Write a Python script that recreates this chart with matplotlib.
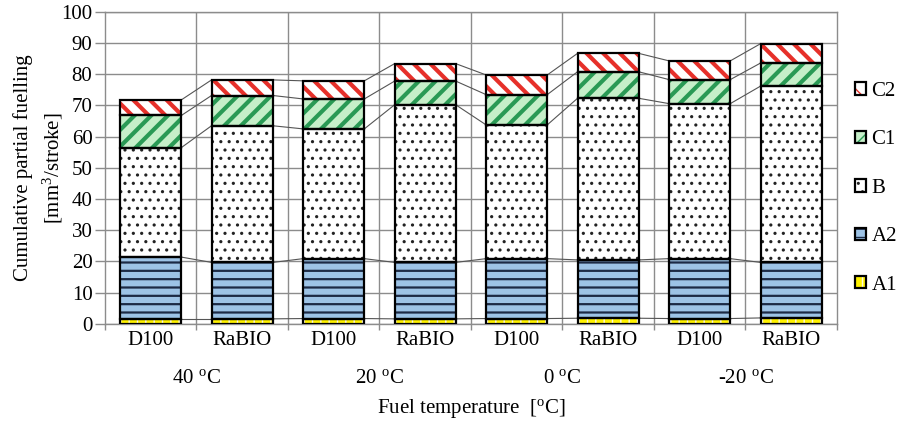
import matplotlib
matplotlib.use("Agg")
import matplotlib.pyplot as plt
from matplotlib import transforms
from matplotlib.patches import Patch
from matplotlib.legend_handler import HandlerTuple

plt.rcParams['font.family'] = ['Liberation Serif', 'DejaVu Serif']
plt.rcParams['mathtext.fontset'] = 'custom'
plt.rcParams['mathtext.rm'] = 'Liberation Serif'
plt.rcParams['mathtext.it'] = 'Liberation Serif:italic'
plt.rcParams['font.size'] = 15

# bars: fuel x temperature
fuels = ['D100', 'RaBIO', 'D100', 'RaBIO', 'D100', 'RaBIO', 'D100', 'RaBIO']
temps = [r'40 $^{\mathrm{o}}$C', r'20 $^{\mathrm{o}}$C', r'0 $^{\mathrm{o}}$C', r'-20 $^{\mathrm{o}}$C']

# partial fuelling per injection [mm3/stroke]
A1 = [1.6, 1.6, 1.7, 1.6, 1.7, 1.8, 1.7, 1.9]
A2 = [19.8, 18.1, 19.2, 18.1, 19.2, 18.7, 19.2, 17.8]
B = [35.1, 43.8, 41.6, 50.5, 42.9, 51.8, 49.7, 56.5]
C1 = [10.3, 9.7, 9.6, 7.6, 9.7, 8.5, 7.7, 7.4]
C2 = [5.0, 5.0, 5.8, 5.6, 6.3, 5.9, 6.0, 6.2]

# (name, values, face, hatch, hatch colour, hatch width)
segments = [
    ('A1', A1, '#fff200', '||', '#fffbe0', 1.0),
    ('A2', A2, '#9dc3e6', '--', '#1c2a45', 1.6),
    ('B', B, 'white', '..', '#222222', 1.1),
    ('C1', C1, '#c6efc9', '//', '#2a9a55', 3.0),
    ('C2', C2, 'white', '\\\\', '#e6302a', 3.0),
]

fig = plt.figure(figsize=(8.97, 4.25), dpi=100)
ax = fig.add_axes([0.117, 0.238, 0.816, 0.734])

x = list(range(len(fuels)))
w = 0.67
bottoms = [0.0] * len(x)
tops = []
handles = {}
for name, vals, face, hatch, hcol, hlw in segments:
    fill = ax.bar(x, vals, w, bottom=bottoms, color=face, edgecolor=hcol,
                  hatch=hatch, linewidth=0, zorder=3)
    for p in fill:
        if hasattr(p, 'set_hatch_linewidth'):
            p.set_hatch_linewidth(hlw)
    ax.bar(x, vals, w, bottom=bottoms, fill=False, edgecolor='black',
           linewidth=1.6, zorder=4)
    bottoms = [b + v for b, v in zip(bottoms, vals)]
    tops.append(bottoms)
    h1 = Patch(facecolor=face, edgecolor=hcol, hatch=hatch, linewidth=0)
    h2 = Patch(fill=False, edgecolor='black', linewidth=1.6)
    handles[name] = (h1, h2)

# series lines between neighbouring bars
for level in tops:
    for i in range(len(x) - 1):
        ax.plot([x[i] + w / 2, x[i + 1] - w / 2], [level[i], level[i + 1]],
                color='#555555', linewidth=0.8, zorder=2)

ax.set_xlim(-0.5, len(x) - 0.5)
ax.set_ylim(0, 100)
ax.set_yticks(range(0, 101, 10))
ax.yaxis.grid(True, color='#8c8c8c', linewidth=1.0, zorder=0)
for b in range(len(x) - 1):
    ax.axvline(b + 0.5, color='#8c8c8c', linewidth=1.0, zorder=0)
ax.set_axisbelow(True)
for s in ax.spines.values():
    s.set_color('#8c8c8c')
    s.set_linewidth(1.0)
ax.tick_params(axis='y', length=7, width=1.0, color='#8c8c8c', labelsize=15, pad=2)
ax.set_xticks([i - 0.5 for i in range(len(x) + 1)])
ax.set_xticklabels([])
ax.tick_params(axis='x', length=4, width=1.0, color='#8c8c8c')

trans = transforms.blended_transform_factory(ax.transData, fig.transFigure)
for i, f in enumerate(fuels):
    ax.text(i, 0.198, f, transform=trans, ha='center', va='center', fontsize=15)
for g, t in enumerate(temps):
    ax.text(2 * g + 0.5, 0.11, t, transform=trans, ha='center', va='center', fontsize=15)
fig.text(0.525, 0.038, r'Fuel temperature  [$^{\mathrm{o}}$C]', ha='center', va='center', fontsize=15)

fig.text(0.026, 0.605, 'Cumulative partial fuelling', rotation=90,
         ha='center', va='center', fontsize=15)
fig.text(0.059, 0.605, r'[mm$^{3}$/stroke]', rotation=90,
         ha='center', va='center', fontsize=15)

order = ['C2', 'C1', 'B', 'A2', 'A1']
leg = fig.legend([handles[n] for n in order], order,
                 handler_map={tuple: HandlerTuple(ndivide=1, pad=0)},
                 loc='upper left', bbox_to_anchor=(0.932, 0.851),
                 frameon=False, fontsize=15, handlelength=0.55, handleheight=0.55,
                 handletextpad=0.25, labelspacing=1.41)

fig.savefig('out.png', dpi=100)
